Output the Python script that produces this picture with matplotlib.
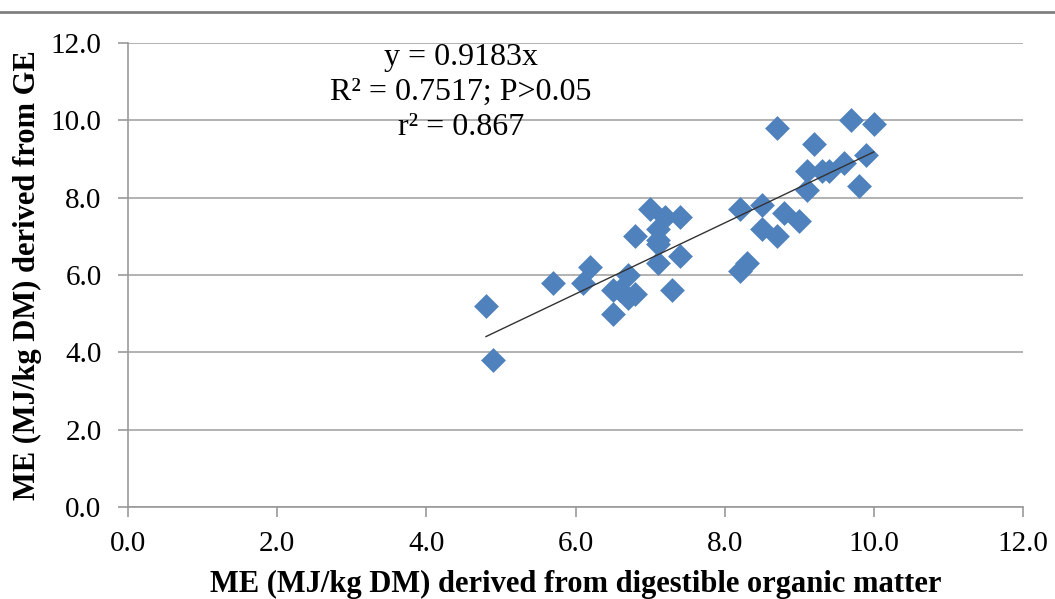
import matplotlib
matplotlib.use("Agg")
import matplotlib.pyplot as plt
from matplotlib.lines import Line2D

# ME values (MJ/kg DM)
me_dom = [4.8, 4.9, 5.7, 6.1, 6.2, 6.5, 6.5, 6.6, 6.7, 6.7,
          6.8, 6.8, 7.0, 7.2, 7.1, 7.1, 7.1, 7.4, 7.4, 7.3,
          8.2, 8.5, 8.5, 8.7, 8.8, 9.0, 8.2, 8.3, 8.7, 9.2,
          9.1, 9.3, 9.4, 9.6, 9.9, 9.8, 9.1, 9.7, 10.0, 7.1]
me_ge = [5.2, 3.8, 5.8, 5.8, 6.2, 5.0, 5.6, 5.6, 6.0, 5.4,
         5.5, 7.0, 7.7, 7.5, 7.2, 6.9, 6.3, 7.5, 6.5, 5.6,
         7.7, 7.8, 7.2, 7.0, 7.6, 7.4, 6.1, 6.3, 9.8, 9.4,
         8.7, 8.7, 8.7, 8.9, 9.1, 8.3, 8.2, 10.0, 9.9, 6.8]
slope = 0.9183
ticks = [0, 2, 4, 6, 8, 10, 12]

plt.rcParams['font.family'] = ['Liberation Serif', 'DejaVu Serif']

fig = plt.figure(figsize=(10.55, 5.99), dpi=100)
ax = fig.add_axes([128 / 1055, 1 - 507 / 599, 895 / 1055, 464 / 599])

ax.scatter(me_dom, me_ge, marker='D', s=160, color='#4F81BD', zorder=3, linewidths=0)

x0, x1 = min(me_dom), max(me_dom)
ax.plot([x0, x1], [slope * x0, slope * x1], color='#333333', lw=1.0, zorder=4)

ax.set_xlim(0, 12)
ax.set_ylim(0, 12)
ax.set_xticks(ticks)
ax.set_yticks(ticks)
ax.set_xticklabels([f"{t:.1f}" for t in ticks])
ax.set_yticklabels([f"{t:.1f}" for t in ticks])
ax.tick_params(labelsize=21, colors='#999999', labelcolor='black', length=7, width=1.2)
ax.tick_params(axis='x', pad=10)
ax.tick_params(axis='y', pad=12)
ax.grid(axis='y', color='#a6a6a6', lw=1.2)
ax.set_axisbelow(True)
for side in ['top', 'right']:
    ax.spines[side].set_visible(False)
for side in ['left', 'bottom']:
    ax.spines[side].set_color('#999999')
    ax.spines[side].set_linewidth(1.2)

ax.set_xlabel('ME (MJ/kg DM) derived from digestible organic matter',
              fontsize=22, fontweight='bold')
ax.xaxis.set_label_coords(0.5, -(584 - 507) / 464)
ax.xaxis.label.set_va('center')
ax.set_ylabel('ME (MJ/kg DM) derived from GE', fontsize=22, fontweight='bold')
ax.yaxis.set_label_coords(-(128 - 27) / 895, 0.5)
ax.yaxis.label.set_va('center')

# regression note
ax.text(4.46, 10.72, 'y = 0.9183x\nR² = 0.7517; P>0.05\nr² = 0.867',
        fontsize=23, ha='center', va='center', multialignment='center',
        linespacing=1.26, zorder=5)

fig.add_artist(Line2D([0, 1], [1 - 12 / 599, 1 - 12 / 599], color='#808080', lw=2))

fig.savefig('out.png', dpi=100)
